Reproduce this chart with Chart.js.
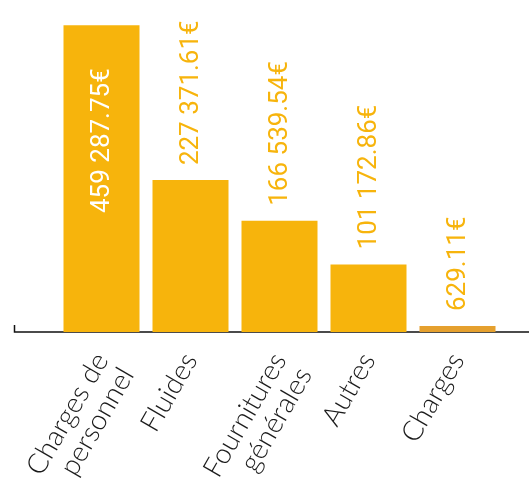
<!DOCTYPE html>
<html lang="fr">
<head>
<meta charset="utf-8">
<script src="https://cdn.jsdelivr.net/npm/chart.js@4"></script>
<style>
  html, body { margin: 0; padding: 0; background: #fff; }
  #wrap { width: 529px; height: 486px; position: relative; }
</style>
</head>
<body>
<div id="wrap"><canvas id="chart"></canvas></div>
<script>
// Répartition des charges (€)
const categories = [["Charges de", "personnel"], "Fluides", ["Fournitures", "générales"], "Autres", "Charges"];
const montants = [459287.75, 227371.61, 166539.54, 101172.86, 629.11];

const JAUNE = "#f7b40c";
const ORANGE = "#e5a02e";

function formatEuro(v) {
  const [ent, dec] = v.toFixed(2).split(".");
  return ent.replace(/\B(?=(\d{3})+(?!\d))/g, " ") + "." + dec + "€";
}

// ligne de base + petit trait à gauche
const baseline = {
  id: "baseline",
  beforeDatasetsDraw(chart) {
    const { ctx, width } = chart;
    const y = chart.scales.y.getPixelForValue(0);
    ctx.save();
    ctx.strokeStyle = "#111";
    ctx.lineWidth = 1.5;
    ctx.beginPath();
    ctx.moveTo(14.5, y - 7);
    ctx.lineTo(14.5, y);
    ctx.lineTo(width, y);
    ctx.stroke();
    ctx.restore();
  },
};

// montants écrits verticalement sur / au-dessus des barres
const valeurs = {
  id: "valeurs",
  afterDatasetsDraw(chart) {
    const { ctx } = chart;
    const meta = chart.getDatasetMeta(0);
    ctx.save();
    ctx.font = "400 26px Roboto";
    ctx.textBaseline = "middle";
    meta.data.forEach((bar, i) => {
      const txt = formatEuro(montants[i]);
      const w = ctx.measureText(txt).width;
      const h = bar.base - bar.y;
      ctx.save();
      ctx.translate(bar.x + 1, 0);
      ctx.rotate(-Math.PI / 2);
      if (h > w + 60) {
        ctx.fillStyle = "#fff";
        ctx.textAlign = "right";
        ctx.fillText(txt, -(bar.y + 43), 0);
      } else {
        ctx.fillStyle = JAUNE;
        ctx.textAlign = "left";
        ctx.fillText(txt, -(bar.y - 15), 0);
      }
      ctx.restore();
    });
    ctx.restore();
  },
};

new Chart(document.getElementById("chart"), {
  type: "bar",
  data: {
    labels: categories,
    datasets: [
      {
        data: montants,
        backgroundColor: montants.map((v, i) => (i === montants.length - 1 ? ORANGE : JAUNE)),
        borderWidth: 0,
        categoryPercentage: 1,
        barPercentage: 0.854,
        minBarLength: 6,
      },
    ],
  },
  options: {
    responsive: true,
    maintainAspectRatio: false,
    animation: false,
    layout: { padding: { left: 57, right: 27, top: 0, bottom: 0 } },
    plugins: { legend: { display: false }, tooltip: { enabled: false } },
    scales: {
      y: { display: false, min: 0, max: 497000 },
      x: {
        grid: { display: false },
        border: { display: false },
        ticks: {
          color: "#1a1a1a",
          font: { family: "Lato", size: 28, weight: 300, lineHeight: 1.05 },
          minRotation: 60,
          maxRotation: 60,
          padding: 8,
          autoSkip: false,
        },
        afterFit(scale) {
          scale.height = 154;
        },
      },
    },
  },
  plugins: [baseline, valeurs],
});
</script>
</body>
</html>
